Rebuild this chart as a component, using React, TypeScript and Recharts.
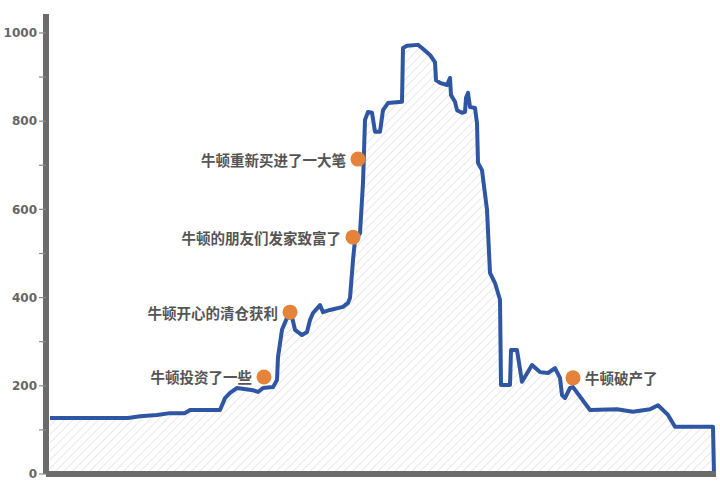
import React from 'react';
import { ComposedChart, Area, Scatter, XAxis, YAxis } from 'recharts';

// time index (trading-day position) and value of the South Sea stock
const timeIdx = [4, 82, 94, 111, 124, 139, 144, 174, 179, 184, 191, 207, 212, 217, 227, 231, 232, 236, 241, 246, 249, 256, 261, 264, 267, 274, 277, 284, 297, 302, 304, 307, 309, 314, 317, 319, 322, 326, 329, 334, 337, 342, 356, 357, 361, 372, 376, 384, 389, 390, 394, 401, 404, 405, 409, 411, 416, 419, 420, 422, 424, 429, 431, 432, 436, 441, 444, 449, 454, 455, 464, 465, 471, 476, 486, 494, 502, 509, 514, 516, 519, 524, 527, 544, 571, 587, 604, 612, 622, 629, 667, 668];
const priceVals = [127, 127, 131, 134, 138, 138, 145, 145, 172, 184, 195, 190, 186, 195, 197, 213, 265, 327, 354, 356, 327, 315, 322, 349, 365, 383, 367, 372, 379, 388, 399, 485, 531, 546, 660, 803, 821, 819, 776, 776, 825, 841, 844, 966, 971, 973, 966, 950, 934, 893, 887, 882, 898, 859, 844, 825, 819, 821, 853, 864, 832, 830, 796, 705, 689, 599, 456, 433, 395, 202, 202, 281, 281, 209, 247, 231, 229, 240, 218, 179, 172, 195, 197, 145, 147, 141, 147, 156, 134, 107, 107, 0];

// annotations
const noteX = [218, 244, 307, 312, 527];
const noteV = [220, 367, 537, 714, 218];
const noteText = ['牛顿投资了一些', '牛顿开心的清仓获利', '牛顿的朋友们发家致富了', '牛顿重新买进了一大笔', '牛顿破产了'];
const noteSide = ['left', 'left', 'left', 'left', 'right'];

const yTicks = [0, 100, 200, 300, 400, 500, 600, 700, 800, 900, 1000];

const data = timeIdx.map((x, i) => ({ x, v: priceVals[i] }));
const notes = noteX.map((x, i) => ({ x, v: noteV[i], label: noteText[i], side: noteSide[i] }));

const NoteShape = (props: any) => {
  const { cx, cy, payload } = props;
  const left = payload.side === 'left';
  return (
    <g>
      <circle cx={cx} cy={cy} r={7.5} fill="#E5833A" />
      <text
        x={left ? cx - 12 : cx + 12}
        y={cy}
        textAnchor={left ? 'end' : 'start'}
        dominantBaseline="central"
        fontFamily="'Noto Sans CJK SC', sans-serif"
        fontWeight={700}
        fontSize={14.5}
        fill="#555555"
      >
        {payload.label}
      </text>
    </g>
  );
};

export default function App() {
  return (
    <div style={{ position: 'absolute', left: 0, top: 0, width: 720, height: 485, background: '#fff' }}>
      <ComposedChart width={720} height={485} data={data} margin={{ top: 14, right: 4, bottom: 10, left: 0 }}>
        <defs>
          <pattern id="hatch" patternUnits="userSpaceOnUse" width="6" height="6" patternTransform="rotate(45)">
            <line x1="0" y1="0" x2="0" y2="6" stroke="#d8d8d8" strokeWidth="1.2" />
          </pattern>
        </defs>
        <XAxis
          dataKey="x"
          type="number"
          domain={[0, 670]}
          tick={false}
          tickLine={false}
          height={1}
          axisLine={{ stroke: '#6b6b6b', strokeWidth: 6 }}
        />
        <YAxis
          type="number"
          domain={[0, 1043]}
          ticks={yTicks}
          allowDataOverflow
          width={46}
          tickSize={7}
          tickMargin={2}
          tickFormatter={(v: number) => (v % 200 === 0 ? String(v) : '')}
          tickLine={{ stroke: '#8a8a8a', strokeWidth: 1.2 }}
          axisLine={{ stroke: '#6b6b6b', strokeWidth: 6 }}
          tick={{ fill: '#666666', fontSize: 12, fontWeight: 700, fontFamily: "'DejaVu Sans', sans-serif" }}
        />
        <Area
          type="linear"
          dataKey="v"
          stroke="#2F56A3"
          strokeWidth={4}
          strokeLinejoin="round"
          fill="url(#hatch)"
          fillOpacity={1}
          baseValue={0}
          dot={false}
          activeDot={false}
          isAnimationActive={false}
        />
        <Scatter data={notes} dataKey="v" shape={NoteShape} isAnimationActive={false} />
      </ComposedChart>
    </div>
  );
}
